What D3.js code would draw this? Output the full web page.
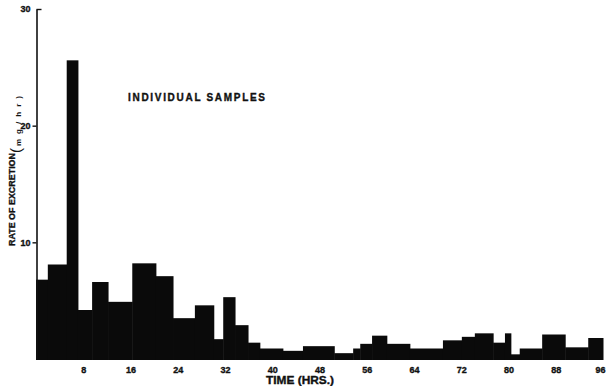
<!DOCTYPE html>
<html>
<head>
<meta charset="utf-8">
<script src="https://cdn.jsdelivr.net/npm/d3@7"></script>
<style>
  body { margin: 0; background: #fff; }
  text { font-family: "Liberation Sans", Arial, sans-serif; font-weight: bold; fill: #111; }
  .heavy { stroke: #111; stroke-width: 0.35px; }
</style>
</head>
<body>
<svg id="chart" width="606" height="386"></svg>
<script>
// sample interval boundaries (hours) and excretion rate per sample (mg/hr)
const edges = [0, 2, 5.2, 7.1, 9.5, 12.2, 16.3, 20.3, 23.2, 26.9, 30.1, 31.7, 33.7, 35.9, 37.9, 41.8,
  45.2, 50.5, 53.7, 54.9, 56.9, 59.4, 63.3, 68.9, 72.1, 74.3, 77.4, 79.4, 80.4, 81.9, 85.7, 89.6, 93.5, 96];
const rates = [6.8, 8.1, 25.6, 4.2, 6.6, 4.9, 8.2, 7.1, 3.5, 4.6, 1.7, 5.3, 2.9, 1.4, 0.9, 0.7, 1.1,
  0.5, 0.9, 1.3, 2.0, 1.3, 0.9, 1.6, 1.9, 2.2, 1.4, 2.2, 0.4, 0.9, 2.1, 1.0, 1.8];
const xTicks = [8, 16, 24, 32, 40, 48, 56, 64, 72, 80, 88, 96];
const yTicks = [10, 20, 30];

const svg = d3.select('#chart');

const x = d3.scaleLinear().domain([0, 96]).range([36, 603]);
const y = d3.scaleLinear().domain([0, 30]).range([359, 9]);

const samples = rates.map((v, i) => ({ t0: edges[i], t1: edges[i + 1], v: v }));

// bars (step histogram)
svg.append('g')
  .attr('fill', '#0a0a0a')
  .selectAll('rect')
  .data(samples)
  .join('rect')
  .attr('x', d => x(d.t0))
  .attr('width', d => x(d.t1) - x(d.t0) + 0.5)
  .attr('y', d => y(d.v))
  .attr('height', d => y(0) - y(d.v) + 1);

// y axis: short outward ticks, the top one points inward
const yAxis = svg.append('g')
  .attr('transform', `translate(${x(0) + 0.5},0)`)
  .call(d3.axisLeft(y).tickValues(yTicks).tickSize(4).tickPadding(2).tickSizeOuter(0));
yAxis.select('.domain').attr('stroke', '#111').attr('stroke-width', 1.6);
yAxis.selectAll('.tick line')
  .attr('stroke', '#111').attr('stroke-width', 1.4)
  .attr('x2', d => d === 30 ? 5 : -4);
yAxis.selectAll('.tick text').attr('class', 'heavy').style('font-size', '9px');

// x axis labels only
const xAxis = svg.append('g')
  .attr('transform', `translate(0,${y(0)})`)
  .call(d3.axisBottom(x).tickValues(xTicks).tickSize(0).tickPadding(8));
xAxis.select('.domain').remove();
xAxis.selectAll('.tick text')
  .attr('class', 'heavy')
  .style('font-size', '9px')
  .attr('x', d => d === 96 ? -3 : 0);

// titles
svg.append('text')
  .attr('class', 'heavy')
  .attr('x', 128).attr('y', 101)
  .attr('textLength', 137).attr('lengthAdjust', 'spacing')
  .style('font-size', '10px')
  .text('INDIVIDUAL SAMPLES');

svg.append('text')
  .attr('class', 'heavy')
  .attr('x', 300).attr('y', 384)
  .attr('text-anchor', 'middle')
  .attr('textLength', 68).attr('lengthAdjust', 'spacingAndGlyphs')
  .style('font-size', '11px')
  .text('TIME (HRS.)');

svg.append('text')
  .attr('class', 'heavy')
  .attr('transform', 'translate(15,246) rotate(-90)')
  .attr('textLength', 93).attr('lengthAdjust', 'spacingAndGlyphs')
  .style('font-size', '9.5px')
  .text('RATE OF EXCRETION');

svg.append('text')
  .attr('transform', 'translate(21,153) rotate(-90)')
  .style('font-size', '15px')
  .style('font-weight', 'normal')
  .text('(');

svg.append('text')
  .attr('transform', 'translate(20.5,146) rotate(-90)')
  .attr('textLength', 50).attr('lengthAdjust', 'spacing')
  .style('font-size', '8px')
  .text('mg/hr)');
</script>
</body>
</html>
